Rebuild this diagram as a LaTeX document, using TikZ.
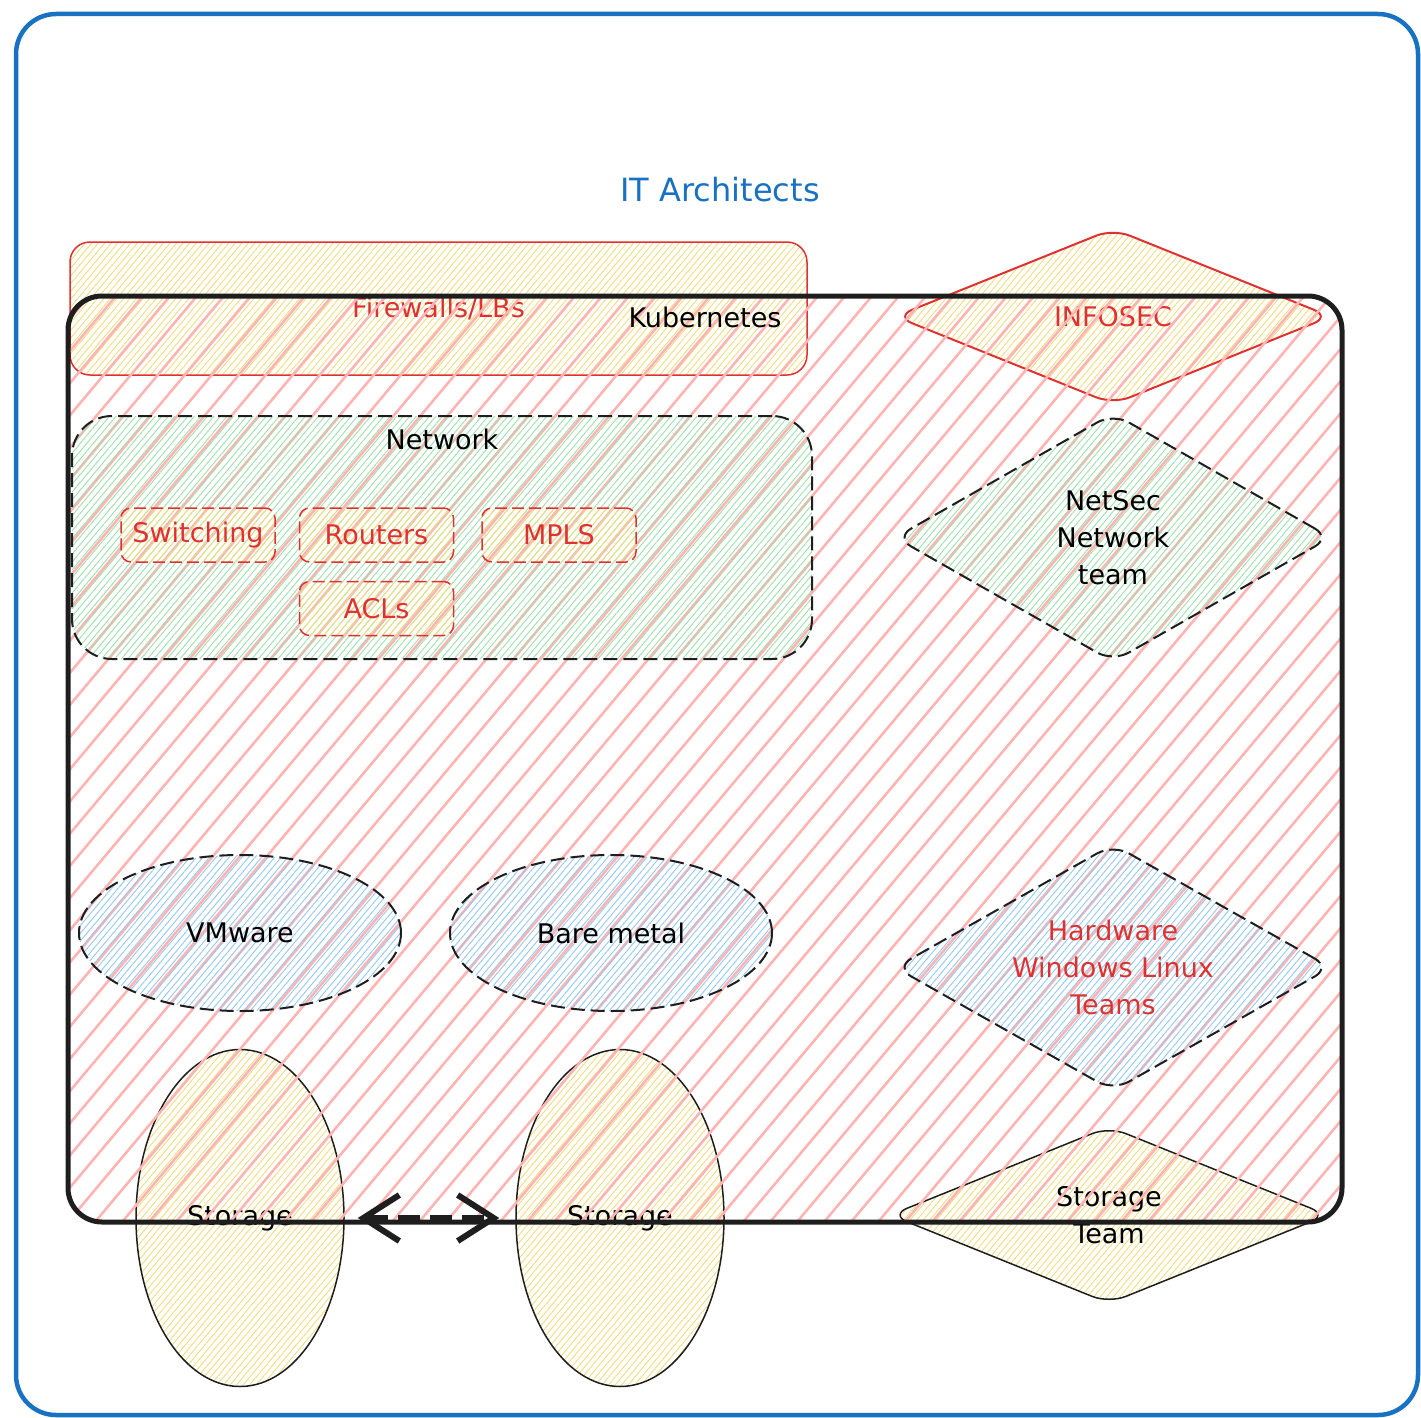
\documentclass[tikz,border=0pt]{standalone}
\usepackage{fontspec}
\setmainfont{DejaVu Sans}
\usetikzlibrary{shapes.geometric,arrows.meta,patterns.meta,positioning}

\definecolor{archblue}{HTML}{1971C2}
\definecolor{secred}{HTML}{E03131}
\definecolor{inkblack}{HTML}{1E1E1E}
\definecolor{hatchred}{HTML}{FFB4B4}
\definecolor{fillyellow}{HTML}{F2DC7E}
\definecolor{fillgreen}{HTML}{9EE0AA}
\definecolor{fillblue}{HTML}{94C8F0}

\tikzset{
  sketchtext/.style={font=\fontsize{27pt}{37pt}\selectfont, inner sep=0pt, align=center},
  hatched/.style={pattern={Lines[angle=50,distance=5pt,line width=0.9pt]}, pattern color=#1},
  itframe/.style={draw=archblue, line width=4.5pt, rounded corners=40pt, minimum width=1402pt, minimum height=1401pt},
  fwbox/.style={draw=secred, line width=1.5pt, rounded corners=20pt, hatched=fillyellow,
    minimum width=737pt, minimum height=133pt, sketchtext, text=secred},
  k8sbox/.style={draw=inkblack, line width=5pt, rounded corners=34pt, inner sep=0pt,
    minimum width=1274pt, minimum height=926pt,
    path picture={\foreach \i in {-30,...,50}
      \draw[hatchred, line width=2.6pt] ([xshift=\i*27pt]path picture bounding box.south west) -- ++(50:1250pt);}},
  netbox/.style={draw=inkblack, line width=2pt, dash pattern=on 14pt off 6pt, rounded corners=40pt,
    hatched=fillgreen, inner sep=0pt, minimum width=740pt, minimum height=243pt},
  redbox/.style={draw=secred, line width=1.5pt, dash pattern=on 12pt off 5pt, rounded corners=10pt,
    hatched=fillyellow, minimum width=154pt, minimum height=54pt, sketchtext, text=secred},
  teambox/.style={diamond, rounded corners=18pt, inner sep=0pt, line width=2pt, sketchtext, minimum width=436pt},
  hostoval/.style={ellipse, draw=inkblack, line width=2pt, dash pattern=on 14pt off 6pt,
    hatched=fillblue, inner sep=0pt, minimum width=322pt, minimum height=156pt, sketchtext},
  diskoval/.style={ellipse, draw=inkblack, line width=1.5pt, hatched=fillyellow,
    inner sep=0pt, minimum width=208pt, minimum height=337pt, sketchtext},
  syncarrow/.style={{Straight Barb[length=36pt,width=46pt]}-{Straight Barb[length=36pt,width=46pt]},
    draw=inkblack, line width=6pt, dash pattern=on 22pt off 10pt}
}

\begin{document}
\begin{tikzpicture}[x=1pt, y=-1pt]
    \useasboundingbox (0,0) rectangle (1421,1418);

    \node (frame) [itframe] at (717,714.5) {};
    \node (title) [sketchtext, font=\fontsize{32pt}{38pt}\selectfont, text=archblue] at (720,190) {IT Architects};

    % drawn under the cluster
    \node (firewalls) [fwbox] at (438.5,308.5) {Firewalls/LBs};
    \node (infosec) [teambox, draw=secred, hatched=fillyellow, text=secred, aspect=2.48, minimum height=176pt] at (1113,316.5) {INFOSEC};

    \node (stor1) [diskoval] at (240,1218) {Storage};
    \node (stor2) [diskoval] at (620,1218) {Storage};
    \node (storteam) [teambox, draw=inkblack, line width=1.5pt, hatched=fillyellow, aspect=2.48, minimum width=438pt, minimum height=177pt] at (1109,1215) {Storage\\Team};

    \node (k8s) [k8sbox] at (705,759) {};
    \node (k8slabel) [sketchtext, below=13pt of k8s.north] {Kubernetes};

    \node (network) [netbox] at (442,537.5) {};
    \node (netlabel) [sketchtext, below=14pt of network.north] {Network};

    \node (switching) [redbox] at (198,535) {Switching};
    \node (routers) [redbox, right=23pt of switching] {Routers};
    \node (mpls) [redbox, right=27pt of routers] {MPLS};
    \node (acls) [redbox, below=18pt of routers] {ACLs};

    \node (netsec) [teambox, draw=inkblack, dash pattern=on 14pt off 6pt, hatched=fillgreen, aspect=1.75, minimum height=249pt] at (1113,537.5) {NetSec\\Network\\team};
    \node (hwteams) [teambox, draw=inkblack, dash pattern=on 14pt off 6pt, hatched=fillblue, text=secred, aspect=1.75, minimum height=247pt] at (1113,967.5) {Hardware\\Windows Linux\\Teams};

    \node (vmware) [hostoval] at (240,933) {VMware};
    \node (baremetal) [hostoval] at (611,933) {Bare metal};

    \draw [syncarrow, shorten <=13pt, shorten >=16pt] (stor1) -- (stor2);
\end{tikzpicture}
\end{document}
